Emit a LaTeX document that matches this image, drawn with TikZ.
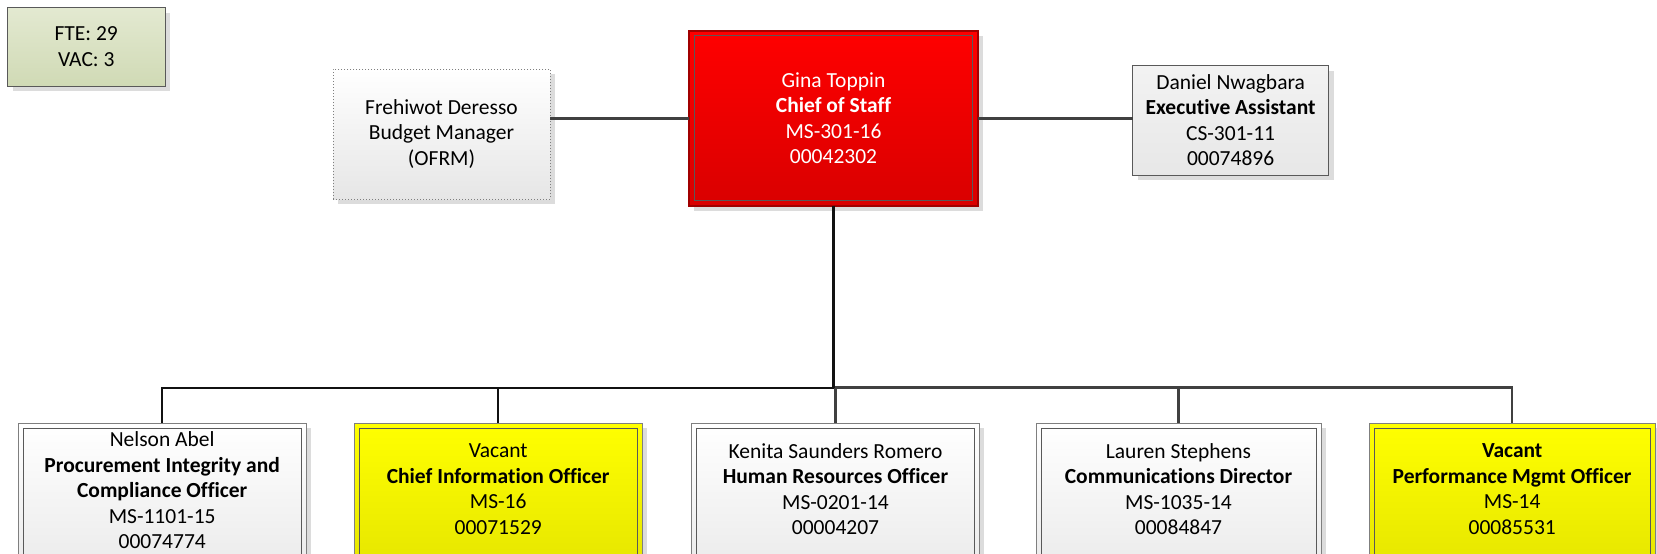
\documentclass[tikz,border=0pt]{standalone}
\usepackage{fontspec}
\setmainfont{Carlito}[Ligatures=NoCommon]

\definecolor{shadowgray}{HTML}{DCDCDC}
\definecolor{framegray}{HTML}{7F7F7F}
\definecolor{innergray}{HTML}{595959}
\definecolor{graybot}{HTML}{E6E6E6}
\definecolor{yellowtop}{HTML}{FFFF00}
\definecolor{yellowbot}{HTML}{E0E000}
\definecolor{redtop}{HTML}{FF0000}
\definecolor{redbot}{HTML}{D90000}
\definecolor{redframe}{HTML}{A00000}
\definecolor{olivetop}{HTML}{E3E9D1}
\definecolor{olivebot}{HTML}{D0DAB5}
\definecolor{linegray}{HTML}{404040}
\definecolor{linedark}{HTML}{111111}

\begin{document}
\begin{tikzpicture}[x=1pt,y=-1pt,
  every node/.style={inner sep=0pt, outer sep=0pt, align=center,
    font=\fontsize{21.5}{25.5}\selectfont},
  shadowed/.style={preaction={fill=shadowgray,
    transform canvas={shift={(5pt,-5pt)}}}},
  innerframe/.style={path picture={
    \draw[line width=1pt, draw=#1]
      ([shift={(5pt,-5pt)}]path picture bounding box.north west) rectangle
      ([shift={(-5pt,5pt)}]path picture bounding box.south east);}},
  staffbox/.style={draw=framegray, line width=1pt, top color=white,
    bottom color=graybot, shadowed, innerframe=innergray,
    anchor=north west, minimum height=180pt},
  vacantbox/.style={draw=framegray, line width=1pt, top color=yellowtop,
    bottom color=yellowbot, shadowed, innerframe=innergray,
    anchor=north west, minimum height=180pt},
  linkblack/.style={draw=linedark, line width=2pt},
  linkgray/.style={draw=linegray, line width=2.6pt},
]
\useasboundingbox (0,0) rectangle (1657,554);
\clip (0,0) rectangle (1657,554);
\fill[white] (0,0) rectangle (1657,554);

% headcount summary
\node[draw=innergray, line width=1pt, top color=olivetop, bottom color=olivebot,
      shadowed, anchor=north west, minimum width=157.5pt, minimum height=78.5pt]
  (fte) at (7.5,7.5) {FTE: 29\\VAC: 3};

% top row
\node[draw=framegray, line width=1pt, dotted, top color=white, bottom color=graybot,
      shadowed, anchor=north west, minimum width=217pt, minimum height=130pt]
  (budget) at (333,69) {Frehiwot Deresso\\Budget Manager\\(OFRM)};

\node[draw=redframe, line width=2pt, top color=redtop, bottom color=redbot,
      shadowed, innerframe=innergray, text=white, anchor=north west,
      minimum width=288.4pt, minimum height=175pt]
  (chief) at (689.3,30.7) {Gina Toppin\\\textbf{Chief of Staff}\\MS-301-16\\00042302};

\node[draw=innergray, line width=1pt, top color=white!95!black, bottom color=graybot!95!white,
      shadowed, anchor=north west, minimum width=195.8pt, minimum height=109.3pt]
  (exec) at (1132.7,65.7) {Daniel Nwagbara\\\textbf{Executive Assistant}\\CS-301-11\\00074896};

% direct reports
\node[staffbox, minimum width=287.7pt] (c1) at (18.3,423.3) {};
\node[vacantbox, minimum width=288.3pt] (c2) at (354,423.3) {};
\node[staffbox, minimum width=287.6pt] (c3) at (691.7,423.3) {};
\node[staffbox, minimum width=285pt] (c4) at (1036,423.3) {};
\node[vacantbox, minimum width=285.7pt] (c5) at (1369.3,423.3) {};

\node (c1t) at (162.2,490.5) {Nelson Abel\\\textbf{Procurement Integrity and}\\\textbf{Compliance Officer}\\MS-1101-15\\00074774};
\node (c2t) at (498.2,489) {Vacant\\\textbf{Chief Information Officer}\\MS-16\\00071529};
\node (c3t) at (835.5,489) {Kenita Saunders Romero\\\textbf{Human Resources Officer}\\MS-0201-14\\00004207};
\node (c4t) at (1178.5,489) {Lauren Stephens\\\textbf{Communications Director}\\MS-1035-14\\00084847};
\node (c5t) at (1512.2,489) {\textbf{Vacant}\\\textbf{Performance Mgmt Officer}\\MS-14\\00085531};

% connectors
\draw[linkgray] (budget.east |- chief.west) -- (chief.west);
\draw[linkgray] (chief.east) -- (chief.east -| exec.west);

\coordinate (bus) at (chief.south |- 0,387.5);
\draw[linkgray] (bus) -| (c3.north);
\draw[linkgray] (bus) -| (c4.north);
\draw[linkgray] (bus) -| (c5.north);
\draw[linkblack] (bus) -| (c1.north);
\draw[linkblack] (bus) -| (c2.north);
\draw[linkblack, line width=2.6pt] (chief.south) -- (bus);
\end{tikzpicture}
\end{document}
